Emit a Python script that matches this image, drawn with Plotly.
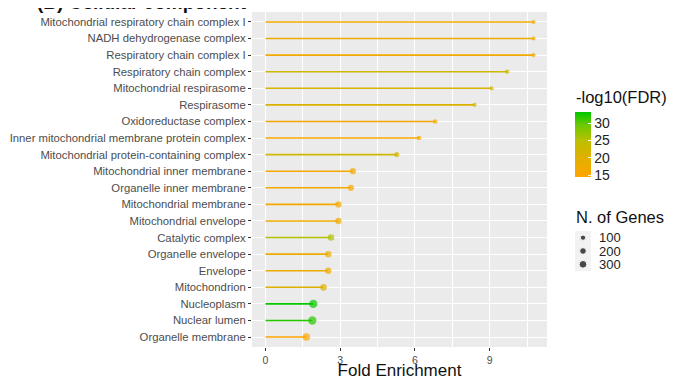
import plotly.graph_objects as go
from plotly.colors import sample_colorscale

terms = [
    "Mitochondrial respiratory chain complex I",
    "NADH dehydrogenase complex",
    "Respiratory chain complex I",
    "Respiratory chain complex",
    "Mitochondrial respirasome",
    "Respirasome",
    "Oxidoreductase complex",
    "Inner mitochondrial membrane protein complex",
    "Mitochondrial protein-containing complex",
    "Mitochondrial inner membrane",
    "Organelle inner membrane",
    "Mitochondrial membrane",
    "Mitochondrial envelope",
    "Catalytic complex",
    "Organelle envelope",
    "Envelope",
    "Mitochondrion",
    "Nucleoplasm",
    "Nuclear lumen",
    "Organelle membrane",
]
fold = [10.76, 10.76, 10.76, 9.70, 9.07, 8.39, 6.81, 6.16, 5.27, 3.51,
        3.43, 2.93, 2.93, 2.63, 2.52, 2.52, 2.33, 1.92, 1.88, 1.64]
fdr = [17.5, 17.5, 17.0, 23.0, 21.5, 21.0, 16.5, 16.5, 22.5, 16.5,
       16.5, 16.5, 17.5, 25.5, 18.0, 18.0, 20.5, 33.0, 32.0, 15.0]
genes = [40, 40, 40, 50, 48, 48, 65, 65, 95, 160,
         165, 175, 175, 190, 185, 185, 205, 380, 375, 290]
size_legend = [100, 200, 300]
cticks = [15, 20, 25, 30]

cmin, cmax = 14.6, 33.3
cscale = [[0.0, "#FFA500"], [0.3, "#E0B000"], [0.55, "#BDBF00"],
          [0.8, "#6CC800"], [1.0, "#00C800"]]

OFF = 8  # default page body margin
W, H = 675 - OFF, 380 - OFF
L, R, T, B = 252 - OFF, 0, 12 - OFF, 33
PW = W - L - R
PH = H - T - B


def px_x(p):
    return (p - OFF - L) / PW


def px_y(p):
    return (H - B - (p - OFF)) / PH


def gsize(n):
    return 2.0 + (n ** 0.5) * 0.33


fig = go.Figure()

for t, f, c in zip(terms, fold, fdr):
    col = sample_colorscale(cscale, [(c - cmin) / (cmax - cmin)])[0]
    fig.add_trace(go.Scatter(x=[0, f], y=[t, t], mode="lines",
                             line=dict(color=col, width=1.6),
                             showlegend=False, hoverinfo="skip"))

fig.add_trace(go.Scatter(
    x=fold, y=terms, mode="markers", showlegend=False,
    marker=dict(size=[gsize(g) for g in genes], color=fdr, colorscale=cscale,
                cmin=cmin, cmax=cmax, line=dict(width=0),
                colorbar=dict(
                    tickvals=cticks, ticks="inside", tickcolor="white", ticklen=3,
                    tickfont=dict(size=14, color="#222"),
                    thickness=16, len=65, lenmode="pixels",
                    x=px_x(575), xref="paper", xanchor="left", xpad=0, ypad=0,
                    y=px_y(111.7), yanchor="top", outlinewidth=0,
                ),
                ),
))

# size legend drawn as its own little subplot
fig.add_trace(go.Scatter(
    x=[0] * len(size_legend), y=[str(s) for s in size_legend], mode="markers",
    marker=dict(size=[gsize(s) for s in size_legend], color="black"),
    xaxis="x2", yaxis="y2", showlegend=False, hoverinfo="skip"))

fig.update_layout(
    width=W, height=H,
    margin=dict(l=L, r=R, t=T, b=B, autoexpand=False),
    plot_bgcolor="#EBEBEB", paper_bgcolor="white",
    font=dict(family="Liberation Sans, Arial, sans-serif", color="#4D4D4D"),
    showlegend=False,
    xaxis=dict(domain=[0, 295 / PW], range=[-0.54, 11.3], tickvals=[0, 3, 6, 9],
               showgrid=True, gridcolor="white", gridwidth=1.1, zeroline=False,
               ticks="outside", ticklen=3, tickcolor="#333", automargin=False,
               tickfont=dict(size=10.5, color="#4D4D4D"),
               minor=dict(tickvals=[1.5, 4.5, 7.5, 10.5], showgrid=True,
                          gridcolor="white", gridwidth=0.6, ticks=""),
               title=dict(text="Fold Enrichment", font=dict(size=17, color="#111"),
                          standoff=7)),
    yaxis=dict(categoryorder="array", categoryarray=terms[::-1],
               range=[-0.6, len(terms) - 0.4], showgrid=True, gridcolor="white",
               gridwidth=1.1, ticks="outside", ticklen=3, tickcolor="#333",
               automargin=False,
               tickfont=dict(size=11.3, color="#4D4D4D"), zeroline=False),
    xaxis2=dict(domain=[px_x(575), px_x(591)], range=[-1, 1], anchor="y2",
                showgrid=False, zeroline=False, showticklabels=False, ticks=""),
    yaxis2=dict(domain=[px_y(271), px_y(231)], anchor="x2", side="right",
                categoryorder="array",
                categoryarray=[str(s) for s in size_legend][::-1],
                tickmode="array", tickvals=[str(s) for s in size_legend],
                range=[-0.5, 2.5], showgrid=False, zeroline=False, ticks="",
                automargin=False,
                ticklabelstandoff=7, tickfont=dict(size=13, color="#222")),
    shapes=[dict(type="rect", xref="x2 domain", yref="y2 domain", x0=0, x1=1,
                 y0=0, y1=1, fillcolor="#F2F2F2", line=dict(width=0),
                 layer="below")],
    annotations=[
        dict(text="<b>(B) Cellular component</b>", x=px_x(35), xref="paper",
             y=1, yref="paper", xanchor="left", yanchor="bottom", yshift=-3,
             showarrow=False, font=dict(size=19, color="#111")),
        dict(text="-log10(FDR)", x=px_x(574), xref="paper", y=px_y(97),
             yref="paper", xanchor="left", yanchor="middle", showarrow=False,
             font=dict(size=16.5, color="#111")),
        dict(text="N. of Genes", x=px_x(574), xref="paper", y=px_y(217),
             yref="paper", xanchor="left", yanchor="middle", showarrow=False,
             font=dict(size=16.5, color="#111")),
    ],
)

fig.write_html("out.html")
